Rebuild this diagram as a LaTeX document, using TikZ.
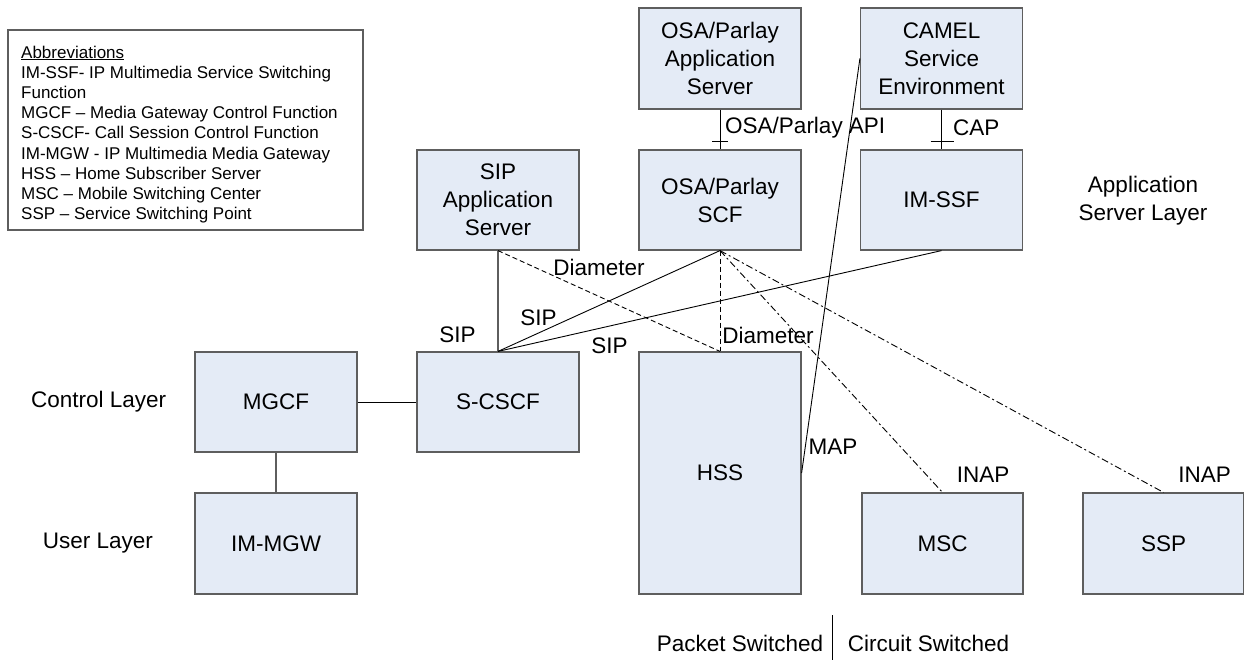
\documentclass[tikz,border=0pt]{standalone}
\usepackage{fontspec}
\setmainfont{Liberation Sans}
\usetikzlibrary{calc}
\definecolor{boxfill}{HTML}{E4EBF6}
\definecolor{boxline}{HTML}{5E5E5E}
\begin{document}
\begin{tikzpicture}[x=1pt,y=-1pt,
  bigfont/.style={font=\fontsize{22.5}{28}\selectfont},
  netbox/.style={draw=boxline, line width=1.2pt, fill=boxfill, minimum width=162pt,
    minimum height=101pt, inner sep=0pt, align=center, bigfont},
  lbl/.style={inner sep=0pt, align=center, bigfont},
  link/.style={line width=0.9pt, black},
  graylink/.style={line width=1.2pt, boxline},
  dashlink/.style={link, dash pattern=on 5pt off 3pt},
  dotdashlink/.style={link, dash pattern=on 7pt off 3pt on 2pt off 3pt}]
\useasboundingbox (0,0) rectangle (1244,660);

% abbreviations legend
\node[draw=boxline, line width=1.2pt, fill=white, minimum width=355pt, minimum height=200pt,
  inner sep=0pt] (legend) at (185.5,130) {};
\node[anchor=north west, inner sep=0pt, align=left,
  font=\fontsize{17}{20.2}\selectfont] (legendtext) at (21,45.5)
  {\underline{Abbreviations}\\
   IM-SSF- IP Multimedia Service Switching\\
   Function\\
   MGCF -- Media Gateway Control Function\\
   S-CSCF- Call Session Control Function\\
   IM-MGW - IP Multimedia Media Gateway\\
   HSS -- Home Subscriber Server\\
   MSC -- Mobile Switching Center\\
   SSP -- Service Switching Point};

% application server layer
\node[netbox] (osaas) at (720,58.5) {OSA/Parlay\\Application\\Server};
\node[netbox] (camel) at (941.5,58.5) {CAMEL\\Service\\Environment};
\node[netbox, minimum height=100pt] (sipas) at (498,200) {SIP\\Application\\Server};
\node[netbox, minimum height=100pt] (scf) at (720,200) {OSA/Parlay\\SCF};
\node[netbox, minimum height=100pt] (imssf) at (941.5,200) {IM-SSF};

% control and user layers
\node[netbox, minimum height=100pt] (mgcf) at (276,402) {MGCF};
\node[netbox, minimum height=100pt] (scscf) at (498,402) {S-CSCF};
\node[netbox] (immgw) at (276,543.5) {IM-MGW};
\node[netbox, minimum height=242pt] (hss) at (720,473) {HSS};
\node[netbox, minimum width=161pt] (msc) at (942.5,543.5) {MSC};
\node[netbox, minimum width=161pt] (ssp) at (1163.5,543.5) {SSP};

% interfaces between the service platforms
\draw[link] (osaas.south) -- (scf.north);
\draw[link] ($(scf.north)+(-8,-8)$) -- ($(scf.north)+(8,-8)$);
\draw[link] (camel.south) -- (imssf.north);
\draw[link] ($(imssf.north)+(-11,-8)$) -- ($(imssf.north)+(12,-8)$);
\node[lbl, anchor=west] (apilbl) at (725,128) {OSA/Parlay API};
\node[lbl, anchor=west] (caplbl) at (953,128) {CAP};

\draw[graylink] (sipas.south) -- (scscf.north);
\draw[dashlink] (sipas.south) -- (hss.north);
\draw[link] (scf.south) -- (scscf.north);
\draw[link] (imssf.south) -- (scscf.north);
\draw[dashlink] (scf.south) -- (hss.north);
\draw[dotdashlink] (scf.south) -- (msc.north);
\draw[dotdashlink] (scf.south) -- (ssp.north);
\draw[link] (camel.west) -- (hss.east);
\draw[link] (mgcf.east) -- (scscf.west);
\draw[graylink] (mgcf.south) -- (immgw.north);

% protocol labels
\node[lbl] (diam1) at (599,267) {Diameter};
\node[lbl] (sip1) at (538.5,318) {SIP};
\node[lbl] (sip2) at (457.5,335) {SIP};
\node[lbl] (sip3) at (609.5,346) {SIP};
\node[lbl] (diam2) at (768,335) {Diameter};
\node[lbl] (maplbl) at (833,447) {MAP};
\node[lbl] (inap1) at (983,475) {INAP};
\node[lbl] (inap2) at (1204.5,475) {INAP};

% layer names
\node[lbl] (aslayer) at (1143,200.5) {Application\\Server Layer};
\node[lbl] (ctllayer) at (98.7,402) {Control Layer};
\node[lbl] (userlayer) at (98,543) {User Layer};

% packet / circuit split
\node[lbl] (ps) at (740,643) {Packet Switched};
\node[lbl] (cs) at (928.5,643) {Circuit Switched};
\coordinate (splittop) at (832,615);
\coordinate (splitbot) at (832,660);
\draw[line width=1pt] (splittop) -- (splitbot);
\end{tikzpicture}
\end{document}
